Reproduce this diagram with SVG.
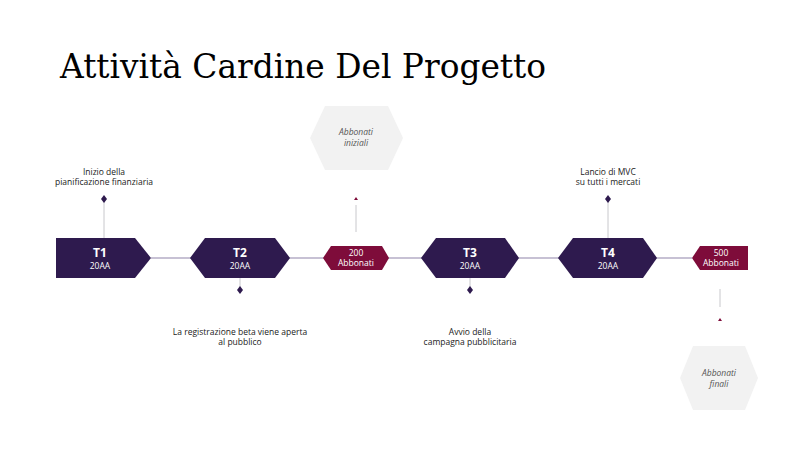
<svg xmlns="http://www.w3.org/2000/svg" width="796" height="450" viewBox="0 0 796 450">
<style>
.dk{fill:#2e1a4e}.rd{fill:#7e0c3a}.gr{fill:#f2f2f2}
.t{font-family:"Open Sans","Liberation Sans",sans-serif;font-size:8.5px;fill:#222;text-anchor:middle}
.h{font-family:"Open Sans","Liberation Sans",sans-serif;font-size:12px;font-weight:bold;fill:#fff;text-anchor:middle}
.s{font-family:"Open Sans","Liberation Sans",sans-serif;font-size:8.5px;fill:#fff;text-anchor:middle}
.i{font-family:"Open Sans","Liberation Sans",sans-serif;font-size:8.5px;font-style:italic;fill:#555;text-anchor:middle}
.st{stroke:#c8c8cc;stroke-width:1;fill:none}
</style>
<rect width="796" height="450" fill="#fff"/>
<text x="60" y="78" font-family="DejaVu Serif,serif" font-size="33" fill="#000" textLength="486" lengthAdjust="spacingAndGlyphs">Attività Cardine Del Progetto</text>
<g id="connectors">
<line x1="151" y1="258" x2="692" y2="258" stroke="#b5adc6" stroke-width="1.5"/>
<line class="st" x1="104" y1="199" x2="104" y2="238"/>
<line class="st" x1="240" y1="278" x2="240" y2="290"/>
<line class="st" x1="356" y1="205" x2="356" y2="232"/>
<line class="st" x1="470" y1="278" x2="470" y2="290"/>
<line class="st" x1="608" y1="199" x2="608" y2="238"/>
<line class="st" x1="720" y1="289" x2="720" y2="307"/>
<path class="dk" d="M104 195l3 4-3 4-3-4z"/>
<path class="dk" d="M240 286l3 4-3 4-3-4z"/>
<path class="dk" d="M470 286l3 4-3 4-3-4z"/>
<path class="dk" d="M608 195l3 4-3 4-3-4z"/>
<path class="rd" d="M356 197l2 3h-4z"/>
<path class="rd" d="M720 318l2 3h-4z"/>
</g>
<g id="n-iniziali"><path class="gr" d="M325 106H388L403 138L388 170H325L310 138z"/><text class="i" x="356" y="135">Abbonati</text><text class="i" x="356" y="146">iniziali</text></g>
<g id="n-finali"><path class="gr" d="M693 346H745L758 378L745 410H693L680 378z"/><text class="i" x="719" y="376">Abbonati</text><text class="i" x="719" y="387">finali</text></g>
<g id="n-t1"><path class="dk" d="M56 238H135L151 258L135 278H56z"/><text class="h" x="100" y="257">T1</text><text class="s" x="100" y="269">20AA</text><text class="t" x="104" y="175">Inizio della</text><text class="t" x="104" y="185">pianificazione finanziaria</text></g>
<g id="n-t2"><path class="dk" d="M205 238H275L290 258L275 278H205L190 258z"/><text class="h" x="240" y="257">T2</text><text class="s" x="240" y="269">20AA</text><text class="t" x="240" y="335">La registrazione beta viene aperta</text><text class="t" x="240" y="345">al pubblico</text></g>
<g id="n-200"><path class="rd" d="M331 246H382L389 258L382 270H331L323 258z"/><text class="s" x="356" y="256">200</text><text class="s" x="356" y="266">Abbonati</text></g>
<g id="n-t3"><path class="dk" d="M436 238H505L519 258L505 278H436L421 258z"/><text class="h" x="470" y="257">T3</text><text class="s" x="470" y="269">20AA</text><text class="t" x="470" y="335">Avvio della</text><text class="t" x="470" y="345">campagna pubblicitaria</text></g>
<g id="n-t4"><path class="dk" d="M573 238H643L657 258L643 278H573L558 258z"/><text class="h" x="608" y="257">T4</text><text class="s" x="608" y="269">20AA</text><text class="t" x="608" y="175">Lancio di MVC</text><text class="t" x="608" y="185">su tutti i mercati</text></g>
<g id="n-500"><path class="rd" d="M700 246H748V270H700L692 258z"/><text class="s" x="721" y="256">500</text><text class="s" x="721" y="266">Abbonati</text></g>
</svg>
